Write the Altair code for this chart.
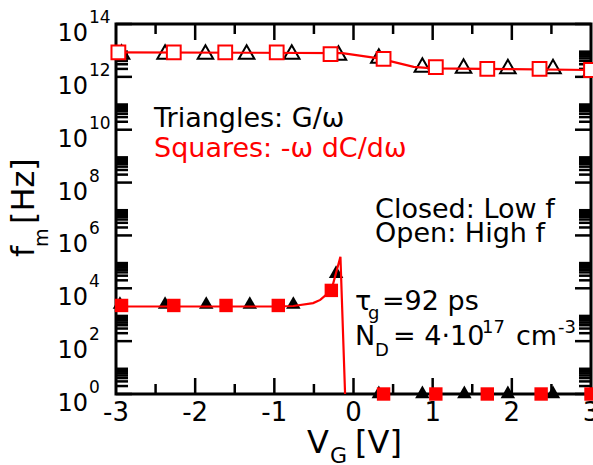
import altair as alt
import pandas as pd

# ---------------- data ----------------
# high-frequency set (open markers), log10(f_m)
hi_tri_v = [-2.93, -2.38, -1.87, -1.35, -0.78, -0.19, 0.32, 0.87, 1.39, 1.95, 2.52, 3.0]
hi_tri_log = [12.94, 12.94, 12.94, 12.94, 12.94, 12.90, 12.79, 12.45, 12.41, 12.39, 12.39, 12.27]
hi_sq_v = [-2.97, -2.27, -1.62, -0.97, -0.29, 0.38, 1.04, 1.69, 2.35, 3.0]
hi_sq_log = [12.93, 12.93, 12.93, 12.93, 12.86, 12.68, 12.37, 12.30, 12.30, 12.26]
hi_line_v = [-3.0, -0.14, 0.32, 0.76, 1.0, 2.0, 3.0]
hi_line_log = [12.93, 12.90, 12.70, 12.38, 12.32, 12.29, 12.26]

# low-frequency set (closed markers)
lo_tri_v = [-2.95, -2.38, -1.86, -1.31, -0.76, -0.22, 0.32, 0.87, 1.40, 1.95, 2.52]
lo_tri_log = [3.46, 3.46, 3.46, 3.46, 3.46, 4.63, 0.08, 0.08, 0.08, 0.08, 0.08]
lo_sq_v = [-2.93, -2.27, -1.61, -0.95, -0.28, 0.38, 1.04, 1.69, 2.37, 3.0]
lo_sq_log = [3.35, 3.35, 3.35, 3.35, 3.92, 0.0, 0.0, 0.0, 0.0, 0.0]
lo_line_v = [-3.0, -1.0, -0.76, -0.51, -0.42, -0.28, -0.165, -0.095]
lo_line_log = [3.31, 3.31, 3.33, 3.44, 3.56, 3.92, 5.19, -1.0]

x_tick_labels = ["-3", "-2", "-1", "0", "1", "2", "3"]
x_tick_vals = [-3, -2, -1, 0, 1, 2, 3]
x_major = [-2, -1, 0, 1, 2]
x_minor = [-2.5, -1.5, -0.5, 0.5, 1.5, 2.5]
y_exps = [0, 2, 4, 6, 8, 10, 12, 14]
y_minor_mult = [2, 3, 4, 5, 6, 7, 8, 9]

FONT = "DejaVu Sans"
W, H = 475, 370

def df_series(v, lg):
    return pd.DataFrame({"v": v, "f": [10.0 ** x for x in lg]})

xs = alt.Scale(domain=[-3, 3], nice=False, zero=False)
ys = alt.Scale(type="log", domain=[1, 1e14], nice=False)
X = alt.X("v:Q", scale=xs, axis=None)
Y = alt.Y("f:Q", scale=ys, axis=None)

one = pd.DataFrame({"a": [0]})
frame = alt.Chart(one).mark_rect(filled=False, stroke="black", strokeWidth=3).encode(
    x=alt.value(0), x2=alt.value(W), y=alt.value(0), y2=alt.value(H))

df_xmaj = pd.DataFrame({"v": x_major})
df_xmin = pd.DataFrame({"v": x_minor})
df_ymaj = pd.DataFrame({"f": [10.0 ** e for e in y_exps]})
df_ymin = pd.DataFrame({"f": [k * 10.0 ** e for e in y_exps[:-1] for k in y_minor_mult]})

def xticks(df, L):
    b = alt.Chart(df).mark_rule(color="black", strokeWidth=2.5).encode(x=X, y=alt.value(H), y2=alt.value(H - L))
    t = alt.Chart(df).mark_rule(color="black", strokeWidth=2.5).encode(x=X, y=alt.value(0), y2=alt.value(L))
    return [b, t]

def yticks(df, L):
    l = alt.Chart(df).mark_rule(color="black", strokeWidth=2.5).encode(y=Y, x=alt.value(0), x2=alt.value(L))
    r = alt.Chart(df).mark_rule(color="black", strokeWidth=2.5).encode(y=Y, x=alt.value(W), x2=alt.value(W - L))
    return [l, r]

ticks = xticks(df_xmaj, 16) + xticks(df_xmin, 10) + yticks(df_ymaj, 16) + yticks(df_ymin, 12)

hi_tri = alt.Chart(df_series(hi_tri_v, hi_tri_log)).mark_point(
    shape="triangle-up", size=240, filled=False, stroke="black", strokeWidth=2, opacity=1).encode(x=X, y=Y)
lo_tri = alt.Chart(df_series(lo_tri_v, lo_tri_log)).mark_point(
    shape="triangle-up", size=210, filled=True, color="black", opacity=1, clip=False).encode(x=X, y=Y)
hi_line = alt.Chart(df_series(hi_line_v, hi_line_log)).mark_line(
    color="#ff0000", strokeWidth=2.2, clip=True).encode(x=X, y=Y)
lo_line = alt.Chart(df_series(lo_line_v, lo_line_log)).mark_line(
    color="#ff0000", strokeWidth=2.2, clip=True).encode(x=X, y=Y)
hi_sq = alt.Chart(df_series(hi_sq_v, hi_sq_log)).mark_point(
    shape="square", size=190, filled=True, fill="white", stroke="#ff0000", strokeWidth=2, opacity=1).encode(x=X, y=Y)
lo_sq = alt.Chart(df_series(lo_sq_v, lo_sq_log)).mark_point(
    shape="square", size=180, filled=True, color="#ff0000", opacity=1, clip=False).encode(x=X, y=Y)

# tick labels
df_xl = pd.DataFrame({"v": x_tick_vals, "t": x_tick_labels})
xlab = alt.Chart(df_xl).mark_text(font=FONT, fontSize=26, align="center", baseline="alphabetic", dy=27,
                                  color="black").encode(x=X, y=alt.value(H), text="t:N")
df_yl = pd.DataFrame({"f": [10.0 ** e for e in y_exps], "e": [str(e) for e in y_exps]})
ylab10 = alt.Chart(df_yl).mark_text(font=FONT, fontSize=24, align="right", baseline="alphabetic", dx=-28, dy=17,
                                    color="black").encode(x=alt.value(0), y=Y, text=alt.value("10"))
ylabe = alt.Chart(df_yl).mark_text(font=FONT, fontSize=17, align="left", baseline="alphabetic", dx=-27, dy=-1,
                                   color="black").encode(x=alt.value(0), y=Y, text="e:N")

# annotations (position in data coordinates: V, log10 f)
ann_t = ["Triangles: G/ω", "Squares: -ω dC/dω", "Closed: Low f", "Open: High f",
         "τ", "g", "=92 ps", "N", "D", "= 4·10", "17", "cm", "-3",
         "V", "G", "[V]"]
ann_v = [-2.520, -2.520, 0.272, 0.272,
         0.019, 0.183, 0.360, 0.019, 0.272, 0.499, 1.623, 2.053, 2.583,
         -0.587, -0.297, 0.019]
ann_lg = [10.103, 8.968, 6.659, 5.751,
          3.178, 2.838, 3.178, 1.854, 1.438, 1.854, 2.308, 1.854, 2.308,
          -2.232, -2.611, -2.232]
ann_size = [27, 27, 27, 27,
            27, 18, 27, 27, 18, 27, 18, 27, 18,
            32, 22, 32]
ann_col = ["black", "#ff0000", "black", "black"] + ["black"] * 12
df_ann = pd.DataFrame({"t": ann_t, "v": ann_v, "f": [10.0 ** x for x in ann_lg],
                       "s": ann_size, "c": ann_col})
ann = alt.Chart(df_ann).mark_text(font=FONT, align="left", baseline="alphabetic").encode(
    x=X, y=Y, text="t:N", size=alt.Size("s:Q", scale=None, legend=None),
    color=alt.Color("c:N", scale=None, legend=None))

# y title (rotated)
yt_t = ["f", "m", "[Hz]"]
yt_v = [-4.036, -3.859, -4.036]
yt_lg = [5.184, 5.562, 6.432]
yt_s = [32, 19, 32]
df_yt = pd.DataFrame({"t": yt_t, "v": yt_v, "f": [10.0 ** x for x in yt_lg], "s": yt_s})
ytitle = alt.Chart(df_yt).mark_text(font=FONT, align="left", baseline="alphabetic", angle=270,
                                    color="black").encode(
    x=X, y=Y, text="t:N", size=alt.Size("s:Q", scale=None, legend=None))

chart = alt.layer(
    frame, *ticks, hi_tri, lo_tri, hi_line, lo_line, hi_sq, lo_sq,
    xlab, ylab10, ylabe, ann, ytitle
).properties(
    width=W, height=H,
    autosize=alt.AutoSizeParams(type="none"),
    padding={"left": 116, "top": 24, "right": 2, "bottom": 71},
).configure_view(stroke=None)

chart.save("out.html", embed_options={"renderer": "svg", "actions": False})
